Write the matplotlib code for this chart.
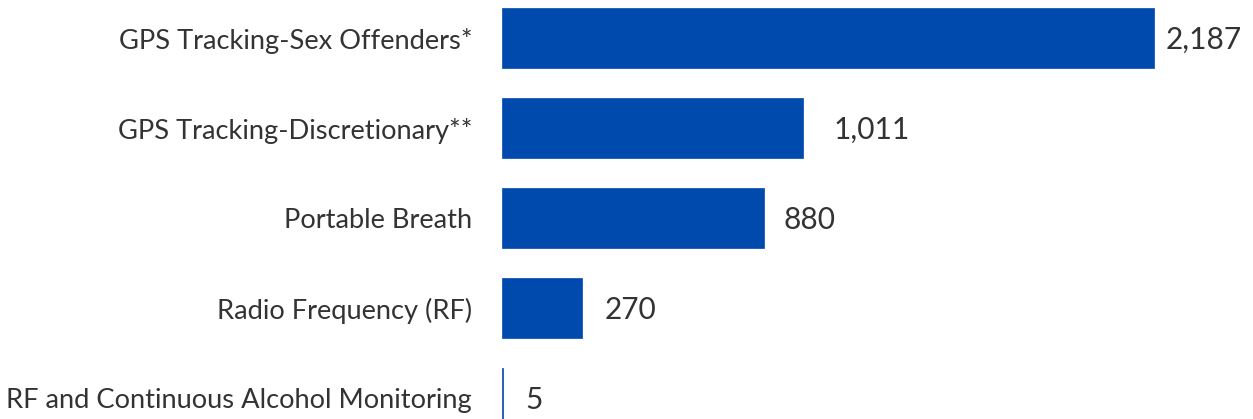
import matplotlib
matplotlib.use("Agg")
from matplotlib import pyplot as plt

categories = ["GPS Tracking-Sex Offenders*", "GPS Tracking-Discretionary**",
              "Portable Breath", "Radio Frequency (RF)",
              "RF and Continuous Alcohol Monitoring"]
values = [2187, 1011, 880, 270, 5]
value_labels = ["2,187", "1,011", "880", "270", "5"]

plt.rcParams['font.family'] = ['Lato', 'DejaVu Sans']

fig = plt.figure(figsize=(12.53, 4.19), dpi=100)
ax = fig.add_axes([502/1253, 0, 1 - 502/1253, 1])

pos = list(range(len(values)))
ax.barh(pos, values, height=0.667, color="#004aad", edgecolor="#004aad", linewidth=0.5)
ax.set_xlim(0, 2187 * (1253 - 502) / 652)
ax.set_ylim(4 + 21/90, -38/90)

offsets = [12, 30, 19, 22, 22]
for i, (v, lab) in enumerate(zip(values, value_labels)):
    ax.annotate(lab, (v, i), xytext=(offsets[i], -2), textcoords="offset pixels",
                ha="left", va="center", fontsize=21.5, color="#333333")

ax.set_yticks(pos)
ax.set_yticklabels(categories, fontsize=19.6, color="#333333")
ax.tick_params(axis="y", length=0, pad=21.5)
ax.set_xticks([])
for s in ax.spines.values():
    s.set_visible(False)

fig.savefig("out.png", dpi=100)
